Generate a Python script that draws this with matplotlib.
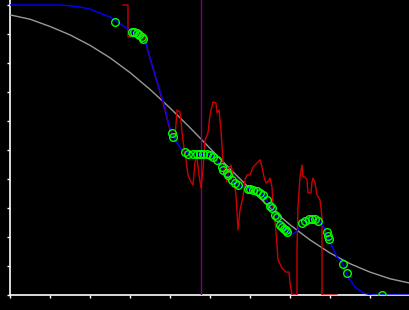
import matplotlib
matplotlib.use("Agg")
import matplotlib.pyplot as plt

# gray reference curve
gray_x = [0, 0.5, 1.0, 1.5, 2.0, 2.5, 3.0, 3.5, 4.0, 4.5, 5.0,
          5.5, 6.0, 6.5, 7.0, 7.5, 8.0, 8.5, 9.0, 9.5, 10.0]
gray_y = [0.966, 0.951, 0.926, 0.897, 0.861, 0.818, 0.767, 0.709, 0.645, 0.577, 0.506,
          0.435, 0.366, 0.301, 0.242, 0.190, 0.145, 0.108, 0.079, 0.056, 0.041]

# blue smooth curve
blue_x = [0, 1.25, 1.5, 1.75, 2.0, 2.25, 2.5, 2.65, 2.875, 3.05,
          3.25, 3.375, 3.5, 3.625, 3.75, 3.875, 3.95, 4.0, 4.075, 4.175,
          4.3, 4.425, 4.75, 5.0, 5.15, 5.3, 5.45, 5.625, 5.75, 6.0,
          6.2, 6.325, 6.45, 6.55, 6.675, 6.8, 6.925, 7.075, 7.175, 7.275,
          7.375, 7.5, 7.65, 7.75, 7.85, 7.975, 8.175, 8.325, 8.45, 8.625,
          8.825, 9.05, 10.0]
blue_y = [1.0, 1.0, 0.997, 0.993, 0.986, 0.972, 0.959, 0.945, 0.924, 0.907,
          0.893, 0.879, 0.817, 0.759, 0.703, 0.645, 0.600, 0.576, 0.545, 0.524,
          0.500, 0.490, 0.486, 0.483, 0.466, 0.441, 0.414, 0.386, 0.376, 0.366,
          0.359, 0.345, 0.321, 0.300, 0.269, 0.241, 0.217, 0.210, 0.221, 0.241,
          0.255, 0.262, 0.259, 0.252, 0.234, 0.190, 0.131, 0.107, 0.062, 0.028,
          0.007, 0.0, 0.0]

# red jagged curve
red_x = [2.825, 2.95, 2.95, 3.05, 3.175, 3.3, 3.375, 3.5, 3.625, 3.75,
         3.875, 4.0, 4.125, 4.175, 4.25, 4.3, 4.35, 4.4, 4.45, 4.5,
         4.575, 4.625, 4.675, 4.725, 4.775, 4.825, 4.875, 4.95, 5.0, 5.075,
         5.15, 5.175, 5.225, 5.275, 5.325, 5.375, 5.425, 5.475, 5.525, 5.575,
         5.65, 5.7, 5.75, 5.825, 5.875, 5.925, 6.0, 6.075, 6.175, 6.25,
         6.3, 6.35, 6.4, 6.45, 6.5, 6.55, 6.575, 6.625, 6.675, 6.7,
         6.8, 6.9, 6.975, 7.0, 7.05, 7.175, 7.175, 7.2, 7.25, 7.3,
         7.325, 7.375, 7.425, 7.45, 7.525, 7.55, 7.575, 7.625, 7.675, 7.75,
         7.8, 7.8, 8.175]
red_y = [1.0, 1.0, 0.890, 0.890, 0.897, 0.907, 0.879, 0.817, 0.759, 0.700,
         0.638, 0.569, 0.541, 0.638, 0.631, 0.562, 0.507, 0.466, 0.414, 0.397,
         0.379, 0.459, 0.476, 0.414, 0.369, 0.431, 0.534, 0.559, 0.621, 0.666,
         0.662, 0.628, 0.638, 0.569, 0.459, 0.424, 0.390, 0.438, 0.448, 0.414,
         0.345, 0.224, 0.293, 0.338, 0.397, 0.414, 0.414, 0.441, 0.455, 0.466,
         0.441, 0.407, 0.386, 0.390, 0.403, 0.372, 0.303, 0.259, 0.172, 0.121,
         0.093, 0.079, 0.079, 0.041, 0.0, 0.0, 0.166, 0.303, 0.407, 0.448,
         0.407, 0.407, 0.397, 0.352, 0.352, 0.390, 0.403, 0.386, 0.345, 0.328,
         0.269, 0.0, 0.0]

# green sample points
pts_x = [2.625, 3.05, 3.1, 3.175, 3.225, 3.3, 3.325, 4.05, 4.075, 4.375,
         4.45, 4.575, 4.675, 4.75, 4.825, 4.925, 5.0, 5.075, 5.175, 5.3,
         5.325, 5.425, 5.45, 5.55, 5.625, 5.7, 5.95, 6.0, 6.075, 6.175,
         6.25, 6.325, 6.425, 6.5, 6.55, 6.625, 6.675, 6.75, 6.8, 6.85,
         6.9, 6.925, 7.3, 7.375, 7.475, 7.55, 7.625, 7.7, 7.925, 7.95,
         7.975, 8.325, 8.425, 9.3]
pts_y = [0.941, 0.907, 0.907, 0.903, 0.897, 0.890, 0.883, 0.559, 0.545, 0.493,
         0.486, 0.486, 0.486, 0.486, 0.486, 0.486, 0.483, 0.476, 0.466, 0.441,
         0.431, 0.421, 0.414, 0.397, 0.386, 0.379, 0.366, 0.366, 0.362, 0.359,
         0.352, 0.345, 0.328, 0.307, 0.300, 0.276, 0.269, 0.241, 0.234, 0.228,
         0.224, 0.217, 0.248, 0.255, 0.262, 0.262, 0.262, 0.255, 0.217, 0.203,
         0.193, 0.107, 0.076, 0.0]

marker_x = 4.775

fig = plt.figure(figsize=(4.1, 3.1), dpi=100, facecolor="black")
ax = fig.add_axes([10 / 410, 15 / 310, 400 / 410, 295 / 310], facecolor="black")

ax.plot(gray_x, gray_y, color="#999999", lw=1.0, zorder=3)
ax.axvline(marker_x, color="#800080", lw=1.0, zorder=3)
ax.plot(red_x, red_y, color="#cc0000", lw=1.0, zorder=4)
ax.plot(blue_x, blue_y, color="#0000ff", lw=1.0, zorder=5)
ax.plot(pts_x, pts_y, "o", mfc="none", mec="#00ff00", ms=5.5, mew=1.0, zorder=6)

ax.set_xlim(0, 10)
ax.set_ylim(0, 295 / 290)
ax.set_xticks(range(0, 11))
ax.set_yticks([i / 10 for i in range(11)])
ax.tick_params(colors="white", length=2.5, width=1, labelleft=False, labelbottom=False)
for side in ["top", "right"]:
    ax.spines[side].set_visible(False)
for side in ["left", "bottom"]:
    ax.spines[side].set_color("white")
    ax.spines[side].set_linewidth(1.2)

fig.savefig("out.png", dpi=100, facecolor="black")
